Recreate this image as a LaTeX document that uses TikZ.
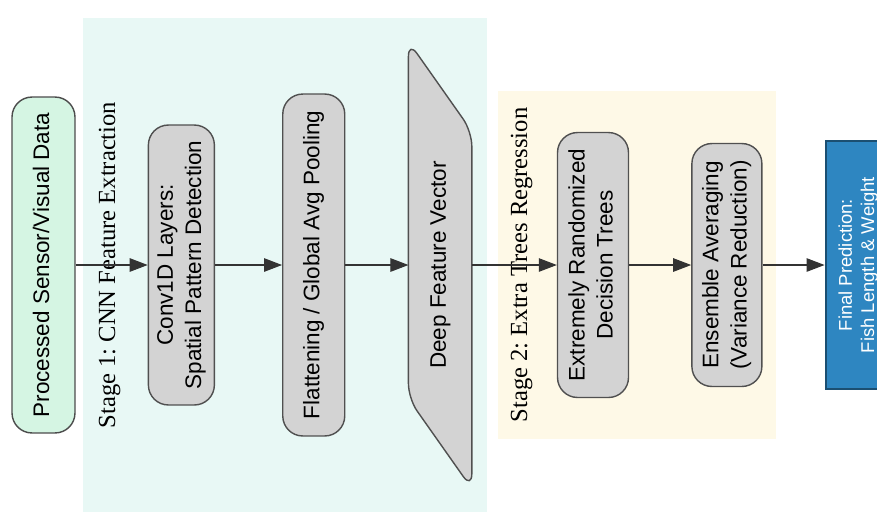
\documentclass[tikz,border=0pt]{standalone}
\usepackage{fontspec}
\usepackage{graphicx}
\setmainfont{Liberation Serif}
\setsansfont{Liberation Sans}
\usetikzlibrary{arrows.meta, positioning, fit, backgrounds}
\frenchspacing

\definecolor{clustA}{HTML}{E8F8F5}
\definecolor{clustB}{HTML}{FEF9E7}
\definecolor{inputgreen}{HTML}{D5F5E3}
\definecolor{nodegray}{HTML}{D3D3D3}
\definecolor{edgegray}{HTML}{505050}
\definecolor{outblue}{HTML}{2E86C1}
\definecolor{outnavy}{HTML}{1B4F72}

% rotated multi-line label
\newcommand{\vtext}[1]{\rotatebox{90}{\begin{tabular}{@{}c@{}}#1\end{tabular}}}

\begin{document}
\begin{tikzpicture}[x=0.02cm, y=-0.02cm,
      box/.style={draw=edgegray, line width=0.8pt, rounded corners=0.4cm, fill=nodegray, inner sep=0pt, align=center, font=\sffamily\fontsize{12.8}{16}\selectfont},
      outbox/.style={draw=outnavy, line width=1.2pt, fill=outblue, text=white, inner sep=0pt, font=\sffamily\fontsize{10.5}{12.6}\selectfont},
      stage/.style={inner sep=0pt, font=\rmfamily\fontsize{14}{16}\selectfont},
      cluster/.style={draw=none, inner sep=0pt},
      arr/.style={-{Triangle[length=0.36cm, width=0.27cm]}, line width=0.6pt, draw=black!80},
    ]
    \useasboundingbox (0,0) rectangle (877,512);

    \node[box, fill=inputgreen, draw=black!70, minimum width=1.26cm, minimum height=6.72cm] (input) at (43.5,265) {\vtext{Processed Sensor/Visual Data}};
    \node[box, minimum width=1.32cm, minimum height=5.6cm, right=1.44cm of input] (conv) {\vtext{Conv1D Layers:\\Spatial Pattern Detection}};
    \node[box, minimum width=1.24cm, minimum height=6.84cm, right=1.34cm of conv] (pool) {\vtext{Flattening / Global Avg Pooling}};
    \node[box, draw=none, fill=none, minimum width=1.24cm, minimum height=8.92cm, right=1.26cm of pool] (feat) {\vtext{Deep Feature Vector}};
    \node[box, minimum width=1.42cm, minimum height=5.3cm, right=1.7cm of feat] (trees) {\vtext{Extremely Randomized\\Decision Trees}};
    \node[box, minimum width=1.4cm, minimum height=4.86cm, right=1.24cm of trees] (avg) {\vtext{Ensemble Averaging\\(Variance Reduction)}};
    \node[outbox, minimum width=1.32cm, minimum height=4.96cm, right=1.24cm of avg] (pred) {\vtext{Final Prediction:\\Fish Length \& Weight}};

    \node[stage, left=0.54cm of conv] (stage_a) {\rotatebox{90}{Stage 1: CNN Feature Extraction}};
    \node[stage, left=0.48cm of trees] (stage_b) {\rotatebox{90}{Stage 2: Extra Trees Regression}};

    \begin{scope}[on background layer]
      \node[cluster, fill=clustA, fit=(stage_a)(conv)(pool)(feat), inner xsep=0.3cm, inner ysep=0.46cm] (cnn) {};
      \node[cluster, fill=clustB, fit=(stage_b)(trees)(avg), inner xsep=0.26cm, inner ysep=0.32cm] (et) {};
      % feature vector drawn as a slanted box
      \draw[draw=edgegray, line width=0.8pt, fill=nodegray, rounded corners=0.3cm]
        (feat.north west) -- ([yshift=-1.8cm]feat.north east) -- (feat.south east)
        -- ([yshift=1.8cm]feat.south west) -- cycle;
    \end{scope}

    \draw[arr] (input.east) -- (conv.west);
    \draw[arr] (conv.east) -- (pool.west);
    \draw[arr] (pool.east) -- (feat.west);
    \draw[arr] (feat.east) -- (trees.west);
    \draw[arr] (trees.east) -- (avg.west);
    \draw[arr] (avg.east) -- (pred.west);
  \end{tikzpicture}
\end{document}
